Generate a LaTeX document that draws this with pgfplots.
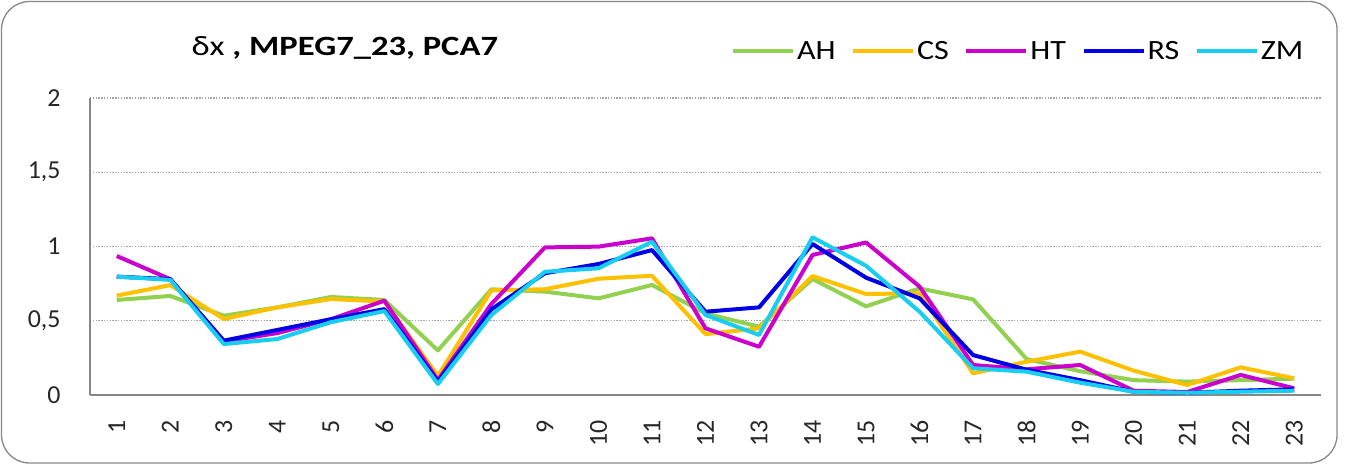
\documentclass[border=0pt]{standalone}
\usepackage{fontspec}
\setmainfont{Carlito}
\newfontfamily\titlefont[FakeStretch=1.24]{Carlito}
\newfontfamily\legfont[FakeStretch=1.15]{Carlito}
\usepackage{pgfplots}
\usepackage{pgfplotstable}
\pgfplotsset{compat=1.18}

\definecolor{cAH}{HTML}{92D050}
\definecolor{cCS}{HTML}{FFC000}
\definecolor{cHT}{HTML}{CC00CC}
\definecolor{cRS}{HTML}{0000E6}
\definecolor{cZM}{HTML}{19CDF0}
\definecolor{axisgray}{HTML}{878787}
\definecolor{gridgray}{HTML}{A6A6A6}

\pgfplotstableread{
x  AH    CS    HT    RS    ZM
1  0.640 0.669 0.936 0.797 0.797
2  0.667 0.740 0.780 0.780 0.775
3  0.534 0.512 0.360 0.366 0.343
4  0.590 0.590 0.417 0.438 0.377
5  0.660 0.646 0.510 0.510 0.490
6  0.640 0.630 0.635 0.578 0.565
7  0.300 0.128 0.100 0.090 0.074
8  0.712 0.705 0.613 0.577 0.539
9  0.696 0.712 0.994 0.820 0.830
10 0.651 0.783 0.999 0.882 0.853
11 0.741 0.803 1.055 0.976 1.032
12 0.550 0.410 0.449 0.561 0.539
13 0.460 0.449 0.325 0.590 0.404
14 0.781 0.801 0.943 1.017 1.062
15 0.597 0.680 1.027 0.790 0.870
16 0.718 0.685 0.730 0.651 0.561
17 0.644 0.146 0.202 0.269 0.180
18 0.242 0.224 0.173 0.170 0.157
19 0.160 0.292 0.202 0.100 0.083
20 0.100 0.164 0.029 0.022 0.022
21 0.090 0.067 0.020 0.015 0.015
22 0.100 0.186 0.135 0.029 0.022
23 0.110 0.112 0.045 0.038 0.029
}\datatable

\begin{document}
\begin{tikzpicture}
% page frame and rounded chart border
\path[use as bounding box] (0,0) rectangle (1347bp,468bp);
\draw[axisgray, line width=1.3bp, rounded corners=28bp] (1.5bp,5bp) rectangle (1337bp,466.5bp);

\begin{axis}[
  at={(90bp,73bp)}, anchor=south west,
  scale only axis, width=1231bp, height=297bp,
  xmin=0.5, xmax=23.5, ymin=0, ymax=2,
  clip=false,
  /pgf/number format/assume math mode=true,
  axis x line*=bottom, axis y line*=left,
  axis line style={axisgray, line width=1.6bp, -},
  xtick={1,...,23}, ytick={0,0.5,1,1.5,2},
  yticklabels={0,{0,5},1,{1,5},2},
  major tick length=0pt,
  tick style={draw=none},
  ymajorgrids,
  major grid style={gridgray, line width=1.4bp, dash pattern=on 1.4bp off 1.4bp},
  xticklabel shift=22bp,
  xticklabel style={rotate=90, anchor=east, font=\fontsize{26}{30}\selectfont, text=black!85},
  yticklabel style={xshift=-26bp, font=\fontsize{26}{30}\selectfont, text=black!85},
  title={δx \textbf{, MPEG7\_23, PCA7}},
  title style={at={(rel axis cs:0.207,1.15)}, anchor=center, font=\titlefont\fontsize{28}{32}\selectfont},
  legend columns=5,
  legend style={at={(rel axis cs:0.754,1.158)}, anchor=center, draw=none, fill=none,
    font=\legfont\fontsize{28}{32}\selectfont,
    /tikz/every even column/.append style={column sep=13.5bp},
    inner sep=0pt},
  legend image code/.code={\draw[#1, line width=4bp] (0bp,0bp) -- (60bp,0bp);},
  every axis plot/.append style={line width=4bp, line join=round},
]
\addplot[cAH, mark=none] table[x=x, y=AH] {\datatable};
\addplot[cCS, mark=none] table[x=x, y=CS] {\datatable};
\addplot[cHT, mark=none] table[x=x, y=HT] {\datatable};
\addplot[cRS, mark=none] table[x=x, y=RS] {\datatable};
\addplot[cZM, mark=none] table[x=x, y=ZM] {\datatable};
\legend{AH,CS,HT,RS,ZM}
\end{axis}
\end{tikzpicture}
\end{document}
